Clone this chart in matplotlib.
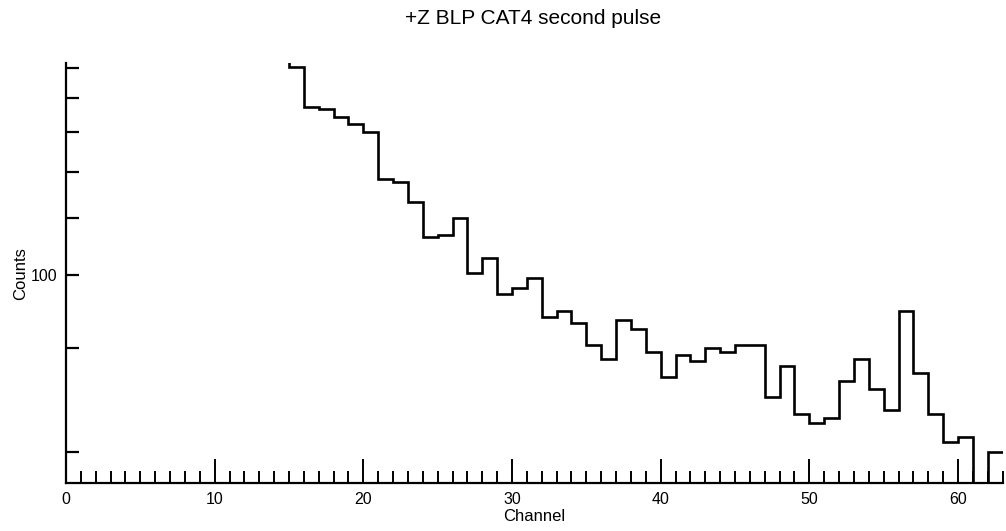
import matplotlib
matplotlib.use("Agg")
import matplotlib.pyplot as plt
from matplotlib.ticker import FixedLocator, NullLocator, MultipleLocator
import numpy as np

plt.rcParams['font.family'] = ['Liberation Sans', 'DejaVu Sans']

# Histogram data (channel bins of width 1, starting at channel 14)
bin_edges = list(range(14, 64))
counts = [260, 226, 193, 192, 186, 181, 175, 146, 144, 133,
          116, 117, 125, 101, 107, 93, 95, 99, 85, 87,
          83, 76, 72, 84, 81, 74, 67, 73, 71.5, 75,
          74, 76, 76, 62, 70, 58, 56, 57, 66, 72,
          64, 59, 87, 68, 58, 52, 53, 40, 50]

y_ticks = [50, 75, 100, 125, 150, 175, 200, 225]
y_ticklabels = ['', '', '100', '', '', '', '', '']
x_major = [0, 10, 20, 30, 40, 50, 60]

title = '+Z BLP CAT4 second pulse'
xlabel = 'Channel'
ylabel = 'Counts'

fig = plt.figure(figsize=(10.06, 5.31), dpi=100)
ax = fig.add_axes([0.0656, 0.0898, 0.931, 0.791])

ax.stairs(counts, bin_edges, baseline=None, color='black', linewidth=1.9)

ax.set_yscale('log')
ax.set_xlim(0, 63)
ax.set_ylim(44.2, 229.5)

ax.yaxis.set_major_locator(FixedLocator(y_ticks))
ax.yaxis.set_minor_locator(NullLocator())
ax.set_yticklabels(y_ticklabels)
ax.xaxis.set_major_locator(FixedLocator(x_major))
ax.xaxis.set_minor_locator(MultipleLocator(1))

for s in ['top', 'right']:
    ax.spines[s].set_visible(False)
for s in ['left', 'bottom']:
    ax.spines[s].set_linewidth(1.6)

ax.tick_params(axis='x', which='major', direction='in', length=17.5, width=1.4,
               labelsize=11.5, pad=6.5)
ax.tick_params(axis='x', which='minor', direction='in', length=8.8, width=1.4)
ax.tick_params(axis='y', which='major', direction='in', length=9.5, width=1.6,
               labelsize=11.5, pad=6)

ax.set_xlabel(xlabel, fontsize=12, labelpad=1)
ax.set_ylabel(ylabel, fontsize=12, labelpad=2)
fig.text(0.5295, 0.966, title, ha='center', va='center', fontsize=15)

fig.savefig('out.png', dpi=100)
